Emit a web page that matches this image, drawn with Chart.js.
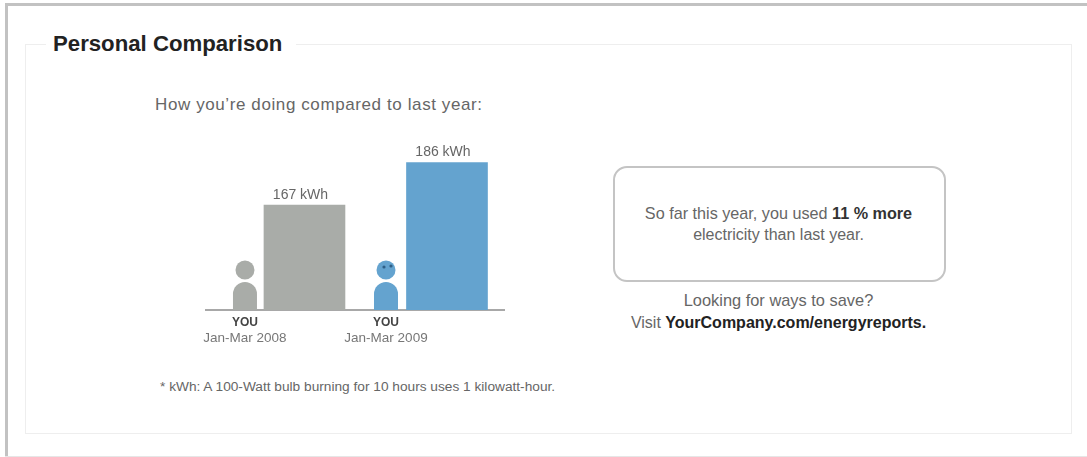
<!DOCTYPE html>
<html>
<head>
<meta charset="utf-8">
<style>
  html, body { margin: 0; padding: 0; background: #fff; }
  body { position: relative; width: 1087px; height: 457px; overflow: hidden;
         font-family: "Liberation Sans", Arial, sans-serif; color: #666; }
  .edge-top  { position: absolute; left: 5px; top: 3px; right: 0; height: 3px; background: #c2c2c2; }
  .edge-left { position: absolute; left: 5px; top: 3px; bottom: 0; width: 3px; background: #c2c2c2; }
  .edge-bottom { position: absolute; left: 5px; right: 0; bottom: 0; height: 1px; background: #e6e6e6; }
  .panel { position: absolute; left: 25px; top: 44px; width: 1045px; height: 388px; border: 1.5px solid #eeeeee; }
  .heading { position: absolute; left: 46px; top: 31px; padding: 0 14px 0 7px; background: #fff;
             font-size: 22.2px; line-height: 26px; font-weight: bold; color: #222; white-space: nowrap; }
  .line { position: absolute; white-space: nowrap; }
  .note { position: absolute; left: 613px; top: 166px; width: 329px; height: 112px;
          border: 2px solid #c4c4c4; border-radius: 14px; }
  .center { text-align: center; }
  b { color: #333; }
  canvas { position: absolute; left: 0; top: 0; }
</style>
</head>
<body>
  <div class="edge-top"></div>
  <div class="edge-left"></div>
  <div class="edge-bottom"></div>
  <div class="panel"></div>
  <div class="heading">Personal Comparison</div>
  <div class="line" style="left:155px;top:95px;font-size:17px;line-height:20px;letter-spacing:.6px">How you’re doing compared to last year:</div>
  <div class="note"></div>
  <div class="line center" style="left:612px;width:333px;top:204px;font-size:16.2px;line-height:18px">So far this year, you used <b>11 % more</b></div>
  <div class="line center" style="left:612px;width:333px;top:226px;font-size:16px;line-height:18px">electricity than last year.</div>
  <div class="line center" style="left:612px;width:333px;top:291px;font-size:16.4px;line-height:18px">Looking for ways to save?</div>
  <div class="line center" style="left:612px;width:333px;top:314px;font-size:16px;line-height:18px">Visit <b style="color:#222">YourCompany.com/energyreports.</b></div>
  <div class="line" style="left:160px;top:379px;font-size:13.7px;line-height:15px">* kWh: A 100-Watt bulb burning for 10 hours uses 1 kilowatt-hour.</div>
  <canvas id="usage" width="1087" height="457"></canvas>

<script src="https://cdn.jsdelivr.net/npm/chart.js@4"></script>
<script>
// Quarterly electricity use, this year against last year
const periods = ["Jan-Mar 2008", "Jan-Mar 2009"];
const usageKwh = [167, 186];
const barSlots = [0, 1];
const personSlots = [-0.4175, 0.572];
const personLabel = "YOU";
const barColors = ["#a9aca8", "#64a3cf"];
const personColors = ["#a9aca8", "#64a3cf"];
const unit = "kWh";

// Value labels above the bars, set slightly left of centre
const valueLabels = {
  id: "valueLabels",
  afterDatasetsDraw(chart) {
    const { ctx } = chart;
    chart.getDatasetMeta(0).data.forEach((bar, i) => {
      ctx.save();
      ctx.font = '14px "Liberation Sans", Arial, sans-serif';
      ctx.fillStyle = "#666";
      ctx.textAlign = "center";
      ctx.textBaseline = "bottom";
      ctx.fillText(usageKwh[i] + " " + unit, bar.x - 4, bar.y - 3);
      ctx.restore();
    });
  }
};

// Small figure standing beside each bar, with a face on the current year
const people = {
  id: "people",
  afterDatasetsDraw(chart) {
    const { ctx, scales, chartArea } = chart;
    const base = chartArea.bottom;
    personSlots.forEach((slot, i) => {
      const cx = scales.x.getPixelForValue(slot);
      ctx.save();
      ctx.fillStyle = personColors[i];
      ctx.beginPath();
      ctx.arc(cx, base - 40, 9.5, 0, Math.PI * 2);
      ctx.fill();
      ctx.beginPath();
      ctx.moveTo(cx - 12, base);
      ctx.lineTo(cx - 12, base - 16);
      ctx.arc(cx, base - 16, 12, Math.PI, 0);
      ctx.lineTo(cx + 12, base);
      ctx.closePath();
      ctx.fill();
      if (i === 1) {
        ctx.fillStyle = "#2f5f86";
        ctx.beginPath();
        ctx.arc(cx - 2, base - 43, 1.6, 0, Math.PI * 2);
        ctx.arc(cx + 5, base - 44, 1.6, 0, Math.PI * 2);
        ctx.fill();
      }
      ctx.restore();
    });
  }
};

const sharedRange = { min: -0.691, max: 1.4, offset: false };

new Chart(document.getElementById("usage"), {
  type: "bar",
  data: {
    datasets: [{
      data: barSlots.map((slot, i) => ({ x: slot, y: usageKwh[i] })),
      backgroundColor: barColors,
      barThickness: 81,
      borderWidth: 0
    }]
  },
  options: {
    responsive: false,
    animation: false,
    layout: { padding: { left: 206, right: 583, top: 100, bottom: 105 } },
    plugins: { legend: { display: false }, tooltip: { enabled: false } },
    scales: {
      x: {
        type: "linear",
        ...sharedRange,
        position: "bottom",
        grid: { display: false, drawTicks: false },
        border: { display: true, color: "#a8a8a8", width: 2 },
        afterBuildTicks(axis) { axis.ticks = personSlots.map(value => ({ value })); },
        afterFit(axis) { axis.height = 20; },
        ticks: {
          autoSkip: false, maxRotation: 0, padding: 7,
          color: "#444",
          font: { family: '"Liberation Sans", Arial, sans-serif', size: 12, weight: "bold", lineHeight: 1 },
          callback: () => personLabel
        }
      },
      periodAxis: {
        type: "linear",
        ...sharedRange,
        position: "bottom",
        grid: { display: false, drawTicks: false },
        border: { display: false },
        afterBuildTicks(axis) { axis.ticks = personSlots.map(value => ({ value })); },
        afterFit(axis) { axis.height = 22; },
        ticks: {
          autoSkip: false, maxRotation: 0, padding: 2,
          color: "#777",
          font: { family: '"Liberation Sans", Arial, sans-serif', size: 13.5, lineHeight: 1 },
          callback: (value) => periods[personSlots.indexOf(value)]
        }
      },
      y: {
        display: false,
        min: 120,
        max: 214
      }
    }
  },
  plugins: [people, valueLabels]
});
</script>
</body>
</html>
